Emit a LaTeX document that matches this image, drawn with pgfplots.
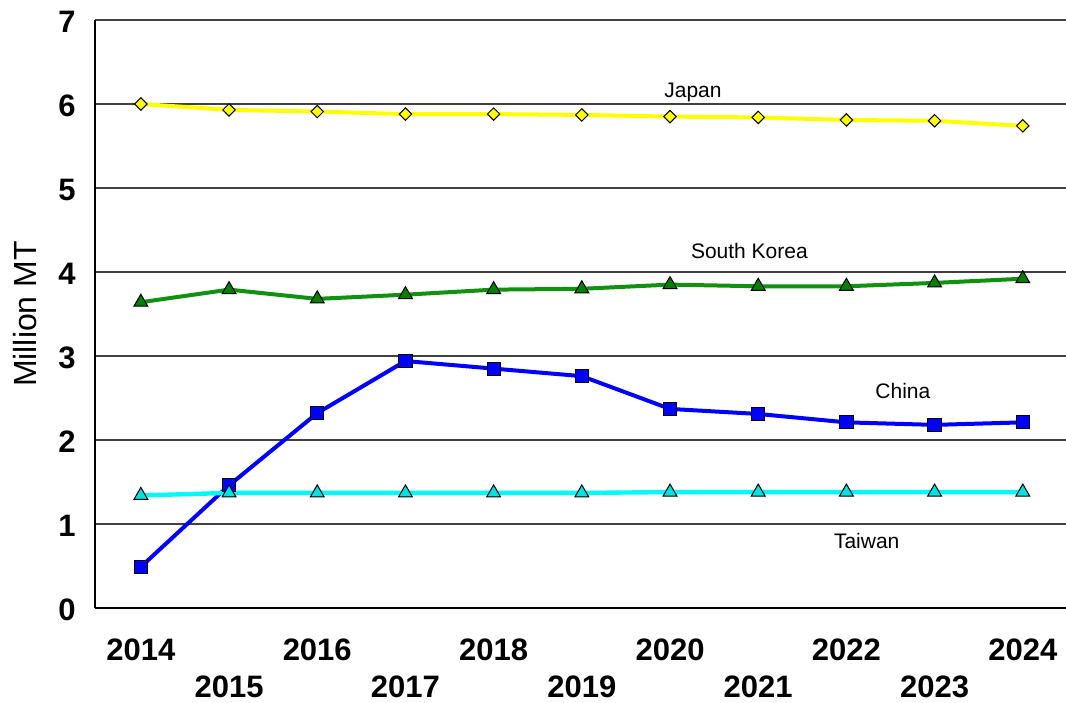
\documentclass[border=0pt]{standalone}
\usepackage{pgfplots}
\pgfplotsset{compat=1.18}
\usepackage{fontspec}
\setmainfont{Liberation Sans}
\begin{document}
\begin{tikzpicture}
\begin{axis}[
  name=ax,
  scale only axis,
  width=485.5pt, height=294pt,
  xmin=2013.48, xmax=2024.49,
  ymin=0, ymax=7,
  axis x line*=bottom, axis y line*=left,
  axis line style={black, line width=1.1pt, -},
  ytick={0,1,...,7},
  xtick={2014,2016,...,2024},
  extra x ticks={2015,2017,...,2023},
  extra x tick style={xticklabel style={yshift=-18.5pt}, grid=none},
  xticklabels={2014,2016,2018,2020,2022,2024},
  extra x tick labels={2015,2017,2019,2021,2023},
  major tick length=0pt,
  ymajorgrids, xmajorgrids=false,
  grid style={black!75, line width=0.6pt},
  /pgf/number format/assume math mode=true,
  tick label style={font=\fontsize{15.5}{18}\selectfont\bfseries},
  xticklabel style={anchor=center, yshift=-21pt, inner sep=0pt},
  yticklabel style={anchor=east, inner sep=0pt, xshift=-9.5pt, yshift=-0.8pt},
  ylabel={Million MT},
  ylabel style={font=\fontsize{16}{19}\selectfont, at={(rel axis cs:0,0.5)}, anchor=center, yshift=35pt},
  clip=false,
]
% Japan
\addplot[color={rgb,255:red,255;green,255;blue,0}, line width=2pt,
  mark=square*, mark size=2.2pt, mark options={rotate=45, fill={rgb,255:red,255;green,255;blue,0}, draw=black, line width=0.5pt}]
  coordinates {(2014,6.00)(2015,5.93)(2016,5.91)(2017,5.88)(2018,5.88)(2019,5.87)(2020,5.85)(2021,5.84)(2022,5.81)(2023,5.80)(2024,5.74)};
% South Korea
\addplot[color={rgb,255:red,16;green,145;blue,16}, line width=2pt,
  mark=triangle*, mark size=4pt, mark options={fill={rgb,255:red,0;green,128;blue,0}, draw=black, line width=0.5pt}]
  coordinates {(2014,3.64)(2015,3.79)(2016,3.68)(2017,3.73)(2018,3.79)(2019,3.80)(2020,3.85)(2021,3.83)(2022,3.83)(2023,3.87)(2024,3.92)};
% China
\addplot[color={rgb,255:red,0;green,0;blue,255}, line width=2pt,
  mark=square*, mark size=3.3pt, mark options={fill={rgb,255:red,0;green,0;blue,255}, draw=black, line width=0.5pt}]
  coordinates {(2014,0.49)(2015,1.46)(2016,2.32)(2017,2.94)(2018,2.85)(2019,2.76)(2020,2.37)(2021,2.31)(2022,2.21)(2023,2.18)(2024,2.21)};
% Taiwan
\addplot[color={rgb,255:red,0;green,250;blue,250}, line width=2.2pt,
  mark=triangle*, mark size=4pt, mark options={fill={rgb,255:red,0;green,225;blue,225}, draw=black, line width=0.5pt}]
  coordinates {(2014,1.34)(2015,1.37)(2016,1.37)(2017,1.37)(2018,1.37)(2019,1.37)(2020,1.38)(2021,1.38)(2022,1.38)(2023,1.38)(2024,1.38)};
\node[font=\fontsize{10.5}{12}\selectfont] at (axis cs:2020.26,6.14) {Japan};
\node[font=\fontsize{10.5}{12}\selectfont] at (axis cs:2020.90,4.25) {South Korea};
\node[font=\fontsize{10.5}{12}\selectfont] at (axis cs:2022.64,2.58) {China};
\node[font=\fontsize{10.5}{12}\selectfont] at (axis cs:2022.23,0.80) {Taiwan};
\end{axis}
\pgfresetboundingbox
\path[use as bounding box] ([xshift=-47.5pt,yshift=-47pt]ax.south west) rectangle ([yshift=10pt]ax.north east);
\end{tikzpicture}
\end{document}
